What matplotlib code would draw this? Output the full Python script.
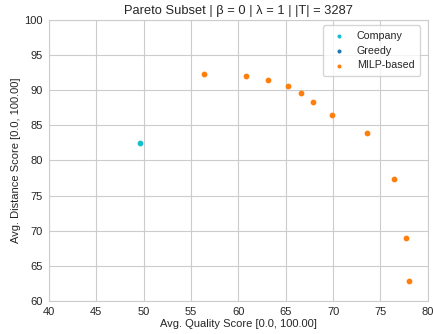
import matplotlib
matplotlib.use("Agg")
import matplotlib.pyplot as plt
import seaborn as sns

company_x = [49.64]
company_y = [82.5]
greedy_x = []
greedy_y = []
milp_x = [56.36, 60.76, 63.1, 65.26, 66.56, 67.86, 69.9, 73.56, 76.41, 77.71, 78.06]
milp_y = [92.27, 92.03, 91.5, 90.65, 89.6, 88.28, 86.5, 83.9, 77.3, 68.9, 62.85]

sns.set_style("whitegrid")
plt.rcParams['font.family'] = ['Liberation Sans', 'DejaVu Sans']

fig = plt.figure(figsize=(4.33, 3.34), dpi=100)
ax = fig.add_axes([0.113, 0.099, 0.875, 0.841])

ax.scatter(company_x, company_y, s=10, color='#17becf', label='Company')
ax.scatter(greedy_x, greedy_y, s=10, color='#1f77b4', label='Greedy')
ax.scatter(milp_x, milp_y, s=10, color='#ff7f0e', label='MILP-based')

ax.set_xlim(40, 80)
ax.set_ylim(60, 100)
ax.tick_params(labelsize=8, pad=1)
ax.set_xlabel('Avg. Quality Score [0.0, 100.00]', fontsize=8, labelpad=1)
ax.set_ylabel('Avg. Distance Score [0.0, 100.00]', fontsize=8, labelpad=2)
ax.set_title('Pareto Subset | β = 0 | λ = 1 | |T| = 3287', fontsize=9.3, pad=4)
ax.legend(loc='upper right', fontsize=7.7, frameon=True, markerscale=0.6,
          handletextpad=0.7, labelspacing=0.45, borderpad=0.5,
          bbox_to_anchor=(0.993, 1.0))

fig.savefig('out.png', dpi=100)
